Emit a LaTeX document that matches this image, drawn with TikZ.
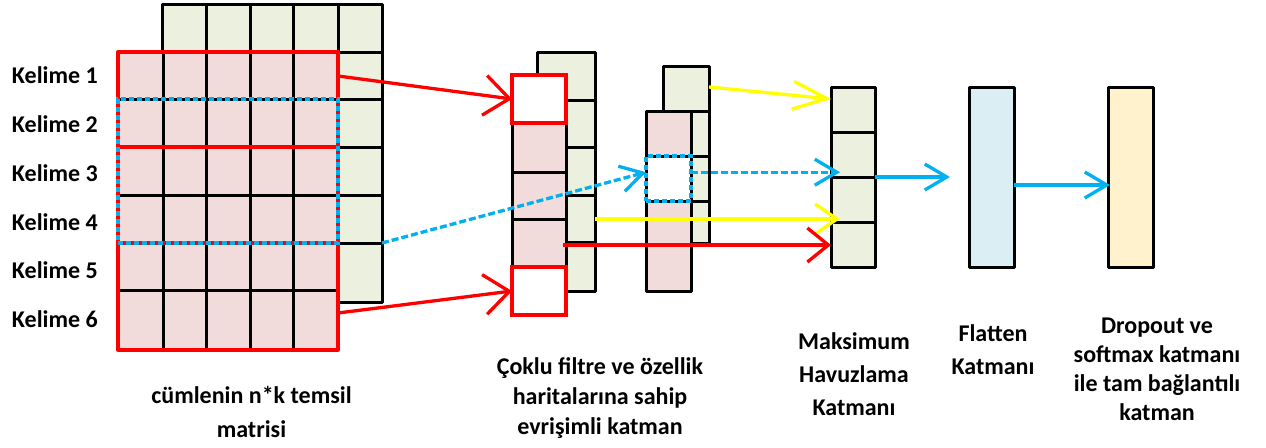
\documentclass[tikz,border=0pt]{standalone}
\usepackage{fontspec}
\setmainfont{Carlito}
\usetikzlibrary{arrows.meta,calc}

\definecolor{gridgreen}{HTML}{EBF1DE}
\definecolor{cellpink}{HTML}{F2DCDB}
\definecolor{flatblue}{HTML}{DAEEF3}
\definecolor{densecream}{HTML}{FFF2CC}
\definecolor{filterred}{HTML}{FF0000}
\definecolor{filterblue}{HTML}{00B0F0}
\definecolor{filteryellow}{HTML}{FFFF00}

\begin{document}
\begin{tikzpicture}[x=1pt,y=-1pt,
  box/.style={draw=black, line width=3pt, line join=round, inner sep=0pt,
    outer sep=0pt, anchor=north west},
  gridline/.style={draw=black, line width=3pt},
  redline/.style={draw=filterred, line width=3.3pt},
  window/.style={draw=filterblue, line width=3.3pt, dash pattern=on 5pt off 3pt,
    inner sep=0pt, outer sep=0pt, anchor=north west},
  redcell/.style={draw=filterred, line width=3.3pt, fill=white, inner sep=0pt,
    outer sep=0pt, anchor=north west},
  redlink/.style={draw=filterred, line width=3.3pt,
    -{Straight Barb[length=25pt,width=40pt]}},
  redflat/.style={draw=filterred, line width=3.3pt,
    -{Straight Barb[length=21pt,width=34pt]}},
  yellowlink/.style={draw=filteryellow, line width=3.3pt,
    -{Straight Barb[length=22pt,width=30pt]}},
  yellowlong/.style={draw=filteryellow, line width=3.3pt,
    -{Straight Barb[length=34pt,width=28pt]}},
  bluelink/.style={draw=filterblue, line width=3.3pt,
    -{Straight Barb[length=22pt,width=26pt]}},
  bluedash/.style={bluelink, dash pattern=on 7pt off 3pt},
  lab/.style={font=\bfseries\fontsize{24}{32}\selectfont, inner sep=0pt,
    outer sep=0pt, align=center}
]
\useasboundingbox (0,0) rectangle (1266,447);

% ---------- sentence matrix: back channel ----------
\node[box, fill=gridgreen, minimum width=220pt, minimum height=298pt]
  (wordback) at (162,4) {};
\foreach \x in {206,250,293,338} \draw[gridline] (\x,4) -- (\x,302);
\foreach \y in {52,99,147,195,243} \draw[gridline] (162,\y) -- (382,\y);

% ---------- sentence matrix: front channel ----------
\node[box, draw=none, fill=cellpink, minimum width=220pt, minimum height=298pt]
  (wordmat) at (118,52) {};
\foreach \x in {163,206,250,293} \draw[gridline] (\x,52) -- (\x,350);
\foreach \y in {99,195,290} \draw[gridline] (118,\y) -- (338,\y);
\draw[redline] (118,147) -- (338,147);
\draw[redline] (118,243) -- (338,243);
\node[box, draw=filterred, line width=3.3pt, minimum width=220pt,
  minimum height=298pt] (wordframe) at (118,52) {};
\node[window, minimum width=220pt, minimum height=144pt] (win) at (118,99) {};

% ---------- word labels ----------
\node[lab, anchor=base west] (k1) at (12,83)  {Kelime 1};
\node[lab, anchor=base west] (k2) at (12,132) {Kelime 2};
\node[lab, anchor=base west] (k3) at (12,181) {Kelime 3};
\node[lab, anchor=base west] (k4) at (12,230) {Kelime 4};
\node[lab, anchor=base west] (k5) at (12,278) {Kelime 5};
\node[lab, anchor=base west] (k6) at (12,327) {Kelime 6};

% ---------- convolution: first feature map ----------
\node[box, fill=gridgreen, minimum width=58pt, minimum height=239pt]
  (c1back) at (537,52) {};
\foreach \y in {100,147,195,242} \draw[gridline] (537,\y) -- (595,\y);
\node[box, fill=cellpink, minimum width=54pt, minimum height=240pt]
  (c1front) at (512,75) {};
\foreach \y in {123,172,219,267} \draw[gridline] (512,\y) -- (566,\y);
\node[redcell, minimum width=54pt, minimum height=48pt] (c1top) at (512,75) {};
\node[redcell, minimum width=54pt, minimum height=48pt] (c1bot) at (512,267) {};

% ---------- convolution: second feature map ----------
\node[box, fill=gridgreen, minimum width=46pt, minimum height=177pt]
  (c2back) at (663,66) {};
\foreach \y in {111,156,201} \draw[gridline] (663,\y) -- (709,\y);
\node[box, fill=cellpink, minimum width=45pt, minimum height=180pt]
  (c2front) at (646,111) {};
\node[box, fill=white, minimum width=45pt, minimum height=45pt]
  (c2cell) at (646,156) {};
\node[window, minimum width=45pt, minimum height=45pt] (c2win) at (646,156) {};

% ---------- max pooling, flatten, dense ----------
\node[box, fill=gridgreen, minimum width=44pt, minimum height=180pt]
  (pool) at (831,87) {};
\foreach \y in {132,177,222} \draw[gridline] (831,\y) -- (875,\y);
\node[box, fill=flatblue, minimum width=45pt, minimum height=180pt]
  (flat) at (969,87) {};
\node[box, fill=densecream, minimum width=45pt, minimum height=180pt]
  (dense) at (1108,87) {};

% ---------- connectors ----------
\coordinate (r1) at (338,76);
\coordinate (r2) at (338,313);
\draw[redlink] (r1) -- (c1top.west);
\draw[redlink] (r2) -- (c1bot.west);

\coordinate (b1) at (wordback.east |- win.south);
\draw[bluedash] (b1) -- ($(c2cell.north west)!0.36!(c2cell.south west)$);

\coordinate (y1) at (709,87);
\draw[yellowlong] (y1) -- ($(pool.north west)+(0,12)$);
\coordinate (b2) at ($(c2cell.north east)!0.36!(c2cell.south east)$);
\draw[bluedash] (b2) -- ($(b2 -| pool.west)+(9,0)$);
\coordinate (y2) at (595,219);
\draw[yellowlink] (y2) -- ($(y2 -| pool.west)+(9,0)$);
\coordinate (r3) at (563,245);
\draw[redflat] (r3) -- (r3 -| pool.west);

\coordinate (poolout) at (950,177);
\draw[bluelink] (pool.east) -- (poolout);
\draw[bluelink] ($(flat.east)+(0,8)$) -- ($(dense.west)+(2,8)$);

% ---------- layer captions ----------
\node[lab, anchor=north, font=\bfseries\fontsize{24}{34}\selectfont]
  (capmat) at (251.5,386) {cümlenin n*k temsil\\matrisi};
\node[lab, anchor=north, font=\bfseries\fontsize{24}{30}\selectfont]
  (capconv) at (600,358) {Çoklu filtre ve özellik\\haritalarına sahip\\evrişimli katman};
\node[lab, anchor=north, font=\bfseries\fontsize{24}{33}\selectfont]
  (cappool) at (854,333) {Maksimum\\Havuzlama\\Katmanı};
\node[lab, anchor=north, font=\bfseries\fontsize{24}{33}\selectfont]
  (capflat) at (993,325) {Flatten\\Katmanı};
\node[lab, anchor=north, font=\bfseries\fontsize{24}{29}\selectfont]
  (capdense) at (1157,318) {Dropout ve\\softmax katmanı\\ile tam bağlantılı\\katman};
\end{tikzpicture}
\end{document}
